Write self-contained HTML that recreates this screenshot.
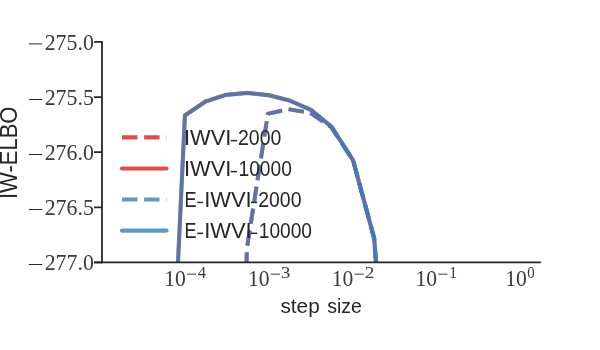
<!DOCTYPE html>
<html>
<head>
<meta charset="utf-8">
<title>IW-ELBO vs step size</title>
<style>
html,body{margin:0;padding:0;background:#ffffff;}
body{width:600px;height:350px;overflow:hidden;font-family:"Liberation Sans",sans-serif;}
svg{display:block;will-change:transform;}
.serif{font-family:"Liberation Serif",serif;fill:#3a3a3a;}
.sans{font-family:"Liberation Sans",sans-serif;fill:#262626;}
</style>
</head>
<body>
<svg width="600" height="350" viewBox="0 0 600 350">
<rect x="0" y="0" width="600" height="350" fill="#ffffff"/>
<defs>
<clipPath id="ax"><rect x="102" y="42" width="439" height="220.4"/></clipPath>
</defs>

<g clip-path="url(#ax)" fill="none" stroke-width="4.17" stroke-linejoin="round">
<path d="M246.20 290.00 L246.80 249.00 L267.90 113.80 L288.40 109.20 L310.40 112.90 L331.30 127.20 L353.10 160.40 L374.20 238.40 L378.10 290.00" stroke="#e41a1c" stroke-opacity="0.8" stroke-width="3.7" stroke-dasharray="15.43 6.67" stroke-dashoffset="-0.15"/>
<path d="M176.70 290.00 L184.90 115.40 L205.60 101.40 L226.20 94.80 L247.60 92.90 L268.30 95.10 L289.70 100.60 L311.20 110.00 L331.60 126.80 L353.10 160.40 L374.20 238.40 L378.10 290.00" stroke="#e41a1c" stroke-opacity="0.8" stroke-width="3.7"/>
<path d="M246.20 290.00 L246.80 249.00 L267.90 113.80 L288.40 109.20 L310.40 112.90 L331.30 127.20 L353.10 160.40 L374.20 238.40 L378.10 290.00" stroke="#3880c0" stroke-opacity="0.76" stroke-dasharray="15.43 6.67" stroke-dashoffset="-0.15"/>
<path d="M176.70 290.00 L184.90 115.40 L205.60 101.40 L226.20 94.80 L247.60 92.90 L268.30 95.10 L289.70 100.60 L311.20 110.00 L331.60 126.80 L353.10 160.40 L374.20 238.40 L378.10 290.00" stroke="#3880c0" stroke-opacity="0.76"/>
</g>
<g stroke="#262626" stroke-width="1.8" fill="none">
<path d="M102 41.0 V262.4 H540.8" stroke-linecap="butt" stroke-linejoin="miter"/>
<path d="M94 41.9 H102 M94 97.05 H102 M94 152.2 H102 M94 207.3 H102"/>
<path d="M94 262.4 H102" stroke-width="2.2"/>
</g>
<text class="serif" font-size="23.6" x="44.64" y="49.55" textLength="49.19" lengthAdjust="spacingAndGlyphs">275.0</text>
<rect x="28.9" y="43.40" width="13.3" height="1.0" fill="#262626"/>
<text class="serif" font-size="23.6" x="44.64" y="105.00" textLength="49.22" lengthAdjust="spacingAndGlyphs">275.5</text>
<rect x="28.9" y="99.00" width="13.3" height="1.0" fill="#262626"/>
<text class="serif" font-size="23.6" x="44.64" y="160.00" textLength="49.19" lengthAdjust="spacingAndGlyphs">276.0</text>
<rect x="28.9" y="154.00" width="13.3" height="1.0" fill="#262626"/>
<text class="serif" font-size="23.6" x="44.64" y="215.00" textLength="49.22" lengthAdjust="spacingAndGlyphs">276.5</text>
<rect x="28.9" y="209.00" width="13.3" height="1.0" fill="#262626"/>
<text class="serif" font-size="23.6" x="44.64" y="270.00" textLength="49.19" lengthAdjust="spacingAndGlyphs">277.0</text>
<rect x="28.9" y="264.00" width="13.3" height="1.0" fill="#262626"/>
<text class="serif" font-size="23.6" x="164.15" y="286.30" textLength="21.62" lengthAdjust="spacingAndGlyphs">10</text>
<text class="serif" font-size="16.2" x="197.73" y="278.10" textLength="8.28" lengthAdjust="spacingAndGlyphs">4</text>
<rect x="186.95" y="273.7" width="9.2" height="0.9" fill="#262626"/>
<text class="serif" font-size="23.6" x="247.93" y="286.30" textLength="21.62" lengthAdjust="spacingAndGlyphs">10</text>
<text class="serif" font-size="16.2" x="280.94" y="278.10" textLength="9.32" lengthAdjust="spacingAndGlyphs">3</text>
<rect x="270.73" y="273.7" width="9.2" height="0.9" fill="#262626"/>
<text class="serif" font-size="23.6" x="331.71" y="286.30" textLength="21.62" lengthAdjust="spacingAndGlyphs">10</text>
<text class="serif" font-size="16.2" x="364.77" y="278.10" textLength="9.60" lengthAdjust="spacingAndGlyphs">2</text>
<rect x="354.51" y="273.7" width="9.2" height="0.9" fill="#262626"/>
<text class="serif" font-size="23.6" x="415.49" y="286.30" textLength="21.62" lengthAdjust="spacingAndGlyphs">10</text>
<text class="serif" font-size="16.2" x="449.22" y="278.10" textLength="7.81" lengthAdjust="spacingAndGlyphs">1</text>
<rect x="438.29" y="273.7" width="9.2" height="0.9" fill="#262626"/>
<text class="serif" font-size="23.6" x="505.30" y="286.30" textLength="21.62" lengthAdjust="spacingAndGlyphs">10</text>
<text class="serif" font-size="16.2" x="527.23" y="278.10" textLength="7.43" lengthAdjust="spacingAndGlyphs">0</text>
<text class="sans" font-size="20" x="280.52" y="312.90" textLength="39.15" lengthAdjust="spacingAndGlyphs">step</text>
<text class="sans" font-size="20" x="327.16" y="312.90" textLength="34.61" lengthAdjust="spacingAndGlyphs">size</text>
<text class="sans" font-size="23.3" transform="translate(17.0 199.02) rotate(-90)" textLength="92.47" lengthAdjust="spacingAndGlyphs">IW-ELBO</text>
<g fill="none" stroke-width="4.17" stroke-opacity="0.8">
<path d="M122 137.3 H166.5" stroke="#e41a1c" stroke-dasharray="15.43 6.67"/>
<path d="M122 168.5 H166.5" stroke="#e41a1c" stroke-linecap="round"/>
<path d="M122 199.5 H166.5" stroke="#377eb8" stroke-dasharray="15.43 6.67"/>
<path d="M122 230.6 H166.5" stroke="#377eb8" stroke-linecap="round"/>
</g>
<text class="sans" font-size="22.3" x="183.98" y="145.40" textLength="47.44" lengthAdjust="spacingAndGlyphs">IWVI</text>
<rect x="230.80" y="139.90" width="6.2" height="1.45" fill="#262626"/>
<text class="sans" font-size="22.3" x="238.02" y="145.40" textLength="43.24" lengthAdjust="spacingAndGlyphs">2000</text>
<text class="sans" font-size="22.3" x="183.98" y="176.40" textLength="47.44" lengthAdjust="spacingAndGlyphs">IWVI</text>
<rect x="230.80" y="170.90" width="6.2" height="1.45" fill="#262626"/>
<text class="sans" font-size="22.3" x="238.54" y="176.40" textLength="53.31" lengthAdjust="spacingAndGlyphs">10000</text>
<text class="sans" font-size="22.3" x="184.42" y="207.20" textLength="12.06" lengthAdjust="spacingAndGlyphs">E</text>
<rect x="197.3" y="201.70" width="5.8" height="1.45" fill="#262626"/>
<text class="sans" font-size="22.3" x="204.18" y="207.20" textLength="47.44" lengthAdjust="spacingAndGlyphs">IWVI</text>
<rect x="251.00" y="201.70" width="6.2" height="1.45" fill="#262626"/>
<text class="sans" font-size="22.3" x="258.22" y="207.20" textLength="43.24" lengthAdjust="spacingAndGlyphs">2000</text>
<text class="sans" font-size="22.3" x="184.42" y="238.10" textLength="12.06" lengthAdjust="spacingAndGlyphs">E</text>
<rect x="197.3" y="232.60" width="5.8" height="1.45" fill="#262626"/>
<text class="sans" font-size="22.3" x="204.18" y="238.10" textLength="47.44" lengthAdjust="spacingAndGlyphs">IWVI</text>
<rect x="251.00" y="232.60" width="6.2" height="1.45" fill="#262626"/>
<text class="sans" font-size="22.3" x="258.74" y="238.10" textLength="53.31" lengthAdjust="spacingAndGlyphs">10000</text>
</svg>
</body>
</html>
